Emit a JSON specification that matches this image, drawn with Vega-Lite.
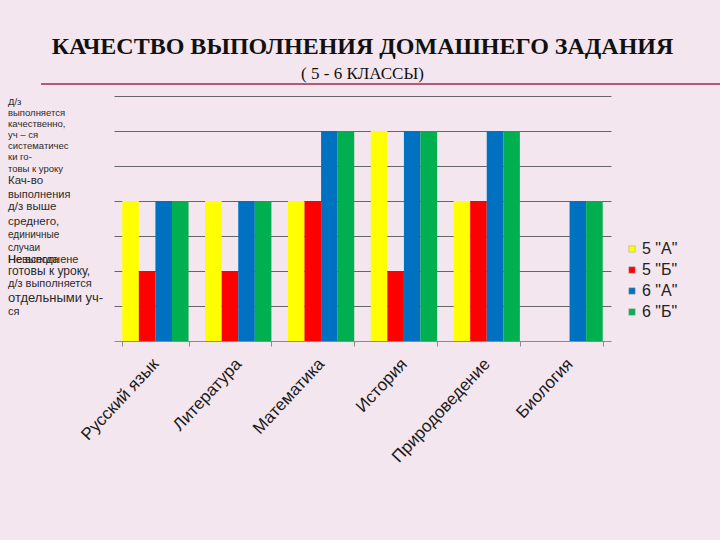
{
  "$schema": "https://vega.github.io/schema/vega-lite/v6.json",
  "width": 497,
  "height": 245,
  "autosize": {"type": "pad"},
  "padding": {"left": 7, "top": 34, "right": 0, "bottom": 80},
  "background": "#f4e6ee",
  "title": {
    "text": "КАЧЕСТВО ВЫПОЛНЕНИЯ ДОМАШНЕГО ЗАДАНИЯ",
    "subtitle": "( 5 - 6 КЛАССЫ)",
    "font": "Liberation Serif",
    "fontSize": 24,
    "fontWeight": "bold",
    "color": "#111111",
    "subtitleFont": "Liberation Serif",
    "subtitleFontSize": 17,
    "subtitleColor": "#111111",
    "subtitlePadding": 7,
    "anchor": "middle",
    "offset": 1
  },
  "config": {"view": {"stroke": null}},
  "datasets": {
    "grades": [
      {"subject": "Русский язык", "class": "5 \"А\"", "value": 4},
      {"subject": "Русский язык", "class": "5 \"Б\"", "value": 2},
      {"subject": "Русский язык", "class": "6 \"А\"", "value": 4},
      {"subject": "Русский язык", "class": "6 \"Б\"", "value": 4},
      {"subject": "Литература", "class": "5 \"А\"", "value": 4},
      {"subject": "Литература", "class": "5 \"Б\"", "value": 2},
      {"subject": "Литература", "class": "6 \"А\"", "value": 4},
      {"subject": "Литература", "class": "6 \"Б\"", "value": 4},
      {"subject": "Математика", "class": "5 \"А\"", "value": 4},
      {"subject": "Математика", "class": "5 \"Б\"", "value": 4},
      {"subject": "Математика", "class": "6 \"А\"", "value": 6},
      {"subject": "Математика", "class": "6 \"Б\"", "value": 6},
      {"subject": "История", "class": "5 \"А\"", "value": 6},
      {"subject": "История", "class": "5 \"Б\"", "value": 2},
      {"subject": "История", "class": "6 \"А\"", "value": 6},
      {"subject": "История", "class": "6 \"Б\"", "value": 6},
      {"subject": "Природоведение", "class": "5 \"А\"", "value": 4},
      {"subject": "Природоведение", "class": "5 \"Б\"", "value": 4},
      {"subject": "Природоведение", "class": "6 \"А\"", "value": 6},
      {"subject": "Природоведение", "class": "6 \"Б\"", "value": 6},
      {"subject": "Биология", "class": "6 \"А\"", "value": 4},
      {"subject": "Биология", "class": "6 \"Б\"", "value": 4}
    ],
    "notes": [
      {"t": "Д/з", "level": 6.83},
      {"t": "выполняется", "level": 6.51},
      {"t": "качественно,", "level": 6.2},
      {"t": "уч – ся", "level": 5.89},
      {"t": "систематичес", "level": 5.57},
      {"t": "ки го-", "level": 5.26},
      {"t": "товы  к уроку", "level": 4.91},
      {"t": "Кач-во", "level": 4.57},
      {"t": "выполнения", "level": 4.17},
      {"t": "д/з выше", "level": 3.83},
      {"t": "среднего,", "level": 3.4},
      {"t": "единичные", "level": 3.03},
      {"t": "случаи", "level": 2.66},
      {"t": "Невыполнене", "level": 2.31},
      {"t": "Не всегда", "level": 2.31},
      {"t": "готовы к уроку,", "level": 2.0},
      {"t": "д/з выполняется", "level": 1.63},
      {"t": "отдельными уч-", "level": 1.23},
      {"t": "ся", "level": 0.83}
    ],
    "underline": [{"part": "title underline"}]
  },
  "layer": [
    {
      "data": {"name": "grades"},
      "mark": {"type": "bar"},
      "encoding": {
        "x": {
          "field": "subject",
          "type": "nominal",
          "sort": null,
          "scale": {
            "domain": ["Русский язык", "Литература", "Математика", "История", "Природоведение", "Биология"],
            "paddingInner": 0.2,
            "paddingOuter": 0.1
          },
          "axis": {
            "title": null,
            "labelAngle": -47,
            "labelFont": "Liberation Sans",
            "labelFontSize": 17,
            "labelColor": "#1a1a1a",
            "tickBand": "extent",
            "tickSize": 5,
            "tickColor": "#8a8a8a",
            "domainColor": "#8a8a8a",
            "labelPadding": 15,
            "labelOffset": 0
          }
        },
        "xOffset": {
          "field": "class",
          "type": "nominal",
          "scale": {"domain": ["5 \"А\"", "5 \"Б\"", "6 \"А\"", "6 \"Б\""], "paddingInner": 0, "paddingOuter": 0}
        },
        "y": {
          "field": "value",
          "type": "quantitative",
          "title": null,
          "scale": {"domain": [0, 7], "nice": false, "zero": true},
          "axis": {
            "values": [1, 2, 3, 4, 5, 6, 7],
            "grid": true,
            "gridColor": "#666666",
            "gridWidth": 1,
            "labels": false,
            "ticks": false,
            "domain": false
          }
        },
        "color": {
          "field": "class",
          "type": "nominal",
          "scale": {
            "domain": ["5 \"А\"", "5 \"Б\"", "6 \"А\"", "6 \"Б\""],
            "range": ["#ffff00", "#ff0000", "#0070c0", "#00b050"]
          },
          "legend": {
            "orient": "none",
            "legendX": 510,
            "legendY": 145,
            "title": null,
            "symbolType": "square",
            "symbolSize": 40,
            "symbolStrokeColor": "#999999",
            "symbolStrokeWidth": 0.5,
            "labelFont": "Liberation Sans",
            "labelFontSize": 16,
            "labelColor": "#222222",
            "labelOffset": 2,
            "rowPadding": 5
          }
        }
      }
    },
    {
      "data": {"name": "notes"},
      "transform": [{"filter": {"field": "t", "oneOf": ["Д/з", "выполняется", "качественно,", "уч – ся", "систематичес", "ки го-", "товы  к уроку"]}}],
      "mark": {"type": "text", "align": "left", "baseline": "middle", "font": "Liberation Sans", "fontSize": 9.5, "color": "#2a2a2a"},
      "encoding": {
        "x": {"datum": -0.2133, "type": "quantitative", "scale": {"domain": [0, 1]}, "axis": null},
        "y": {"field": "level", "type": "quantitative", "title": null, "scale": {"domain": [0, 7], "nice": false}},
        "text": {"field": "t"}
      }
    },
    {
      "data": {"name": "notes"},
      "transform": [{"filter": {"field": "t", "oneOf": ["единичные", "случаи"]}}],
      "mark": {"type": "text", "align": "left", "baseline": "middle", "font": "Liberation Sans", "fontSize": 10, "color": "#2a2a2a"},
      "encoding": {
        "x": {"datum": -0.2133, "type": "quantitative", "scale": {"domain": [0, 1]}, "axis": null},
        "y": {"field": "level", "type": "quantitative", "title": null, "scale": {"domain": [0, 7], "nice": false}},
        "text": {"field": "t"}
      }
    },
    {
      "data": {"name": "notes"},
      "transform": [{"filter": {"field": "t", "oneOf": ["Невыполнене", "Не всегда", "д/з выполняется", "ся", "выполнения"]}}],
      "mark": {"type": "text", "align": "left", "baseline": "middle", "font": "Liberation Sans", "fontSize": 11, "color": "#2a2a2a"},
      "encoding": {
        "x": {"datum": -0.2133, "type": "quantitative", "scale": {"domain": [0, 1]}, "axis": null},
        "y": {"field": "level", "type": "quantitative", "title": null, "scale": {"domain": [0, 7], "nice": false}},
        "text": {"field": "t"}
      }
    },
    {
      "data": {"name": "notes"},
      "transform": [{"filter": {"field": "t", "oneOf": ["Кач-во", "д/з выше", "среднего,"]}}],
      "mark": {"type": "text", "align": "left", "baseline": "middle", "font": "Liberation Sans", "fontSize": 11.5, "color": "#2a2a2a"},
      "encoding": {
        "x": {"datum": -0.2133, "type": "quantitative", "scale": {"domain": [0, 1]}, "axis": null},
        "y": {"field": "level", "type": "quantitative", "title": null, "scale": {"domain": [0, 7], "nice": false}},
        "text": {"field": "t"}
      }
    },
    {
      "data": {"name": "notes"},
      "transform": [{"filter": {"field": "t", "oneOf": ["готовы к уроку,"]}}],
      "mark": {"type": "text", "align": "left", "baseline": "middle", "font": "Liberation Sans", "fontSize": 12, "color": "#2a2a2a"},
      "encoding": {
        "x": {"datum": -0.2133, "type": "quantitative", "scale": {"domain": [0, 1]}, "axis": null},
        "y": {"field": "level", "type": "quantitative", "title": null, "scale": {"domain": [0, 7], "nice": false}},
        "text": {"field": "t"}
      }
    },
    {
      "data": {"name": "notes"},
      "transform": [{"filter": {"field": "t", "oneOf": ["отдельными уч-"]}}],
      "mark": {"type": "text", "align": "left", "baseline": "middle", "font": "Liberation Sans", "fontSize": 13, "color": "#2a2a2a"},
      "encoding": {
        "x": {"datum": -0.2133, "type": "quantitative", "scale": {"domain": [0, 1]}, "axis": null},
        "y": {"field": "level", "type": "quantitative", "title": null, "scale": {"domain": [0, 7], "nice": false}},
        "text": {"field": "t"}
      }
    },
    {
      "data": {"name": "underline"},
      "mark": {"type": "rule", "color": "#b35a7a", "strokeWidth": 2},
      "encoding": {
        "x": {"datum": -0.1469, "type": "quantitative", "scale": {"domain": [0, 1]}, "axis": null},
        "x2": {"datum": 1.2213},
        "y": {"datum": 7.343, "type": "quantitative", "title": null, "scale": {"domain": [0, 7], "nice": false}}
      }
    }
  ],
  "resolve": {"scale": {"x": "independent"}}
}
